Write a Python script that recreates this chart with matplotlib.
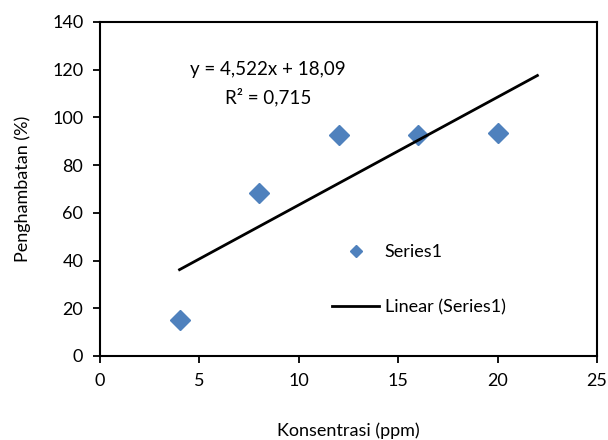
import matplotlib.pyplot as plt

konsentrasi = [4, 8, 12, 16, 20]
penghambatan = [15.0, 68.5, 92.5, 92.5, 93.3]
slope = 4.522
intercept = 18.09
trend_x = [4, 22]
trend_y = [slope * x + intercept for x in trend_x]

plt.rcParams['font.family'] = ['Lato', 'DejaVu Sans']

fig = plt.figure(figsize=(6.08, 4.40), dpi=100)
ax = fig.add_axes([0.1645, 0.191, 0.8175, 0.759])

ax.plot(konsentrasi, penghambatan, 'D', color='#4F81BD', markersize=10,
        linestyle='none', label='Series1')
ax.plot(trend_x, trend_y, color='black', linewidth=2, label='Linear (Series1)')

ax.set_xlim(0, 25)
ax.set_ylim(0, 140)
ax.set_xticks([0, 5, 10, 15, 20, 25])
ax.set_yticks(range(0, 141, 20))
ax.tick_params(direction='out', length=5, width=1.3, labelsize=13, pad=7)
for s in ax.spines.values():
    s.set_linewidth(1.5)

ax.set_xlabel('Konsentrasi (ppm)', fontsize=13, labelpad=24)
ax.set_ylabel('Penghambatan (%)', fontsize=13, labelpad=15)

ax.text(8.45, 120, 'y = 4,522x + 18,09', ha='center', va='center', fontsize=13.5)
ax.text(8.45, 108.6, 'R² = 0,715', ha='center', va='center', fontsize=13.5)

ax.legend(loc='center left', bbox_to_anchor=(0.52, 0.364), bbox_transform=fig.transFigure,
          frameon=False, fontsize=13, markerscale=0.6, handlelength=2.6,
          labelspacing=2.2, handletextpad=0.3)

fig.savefig('out.png', dpi=100)
